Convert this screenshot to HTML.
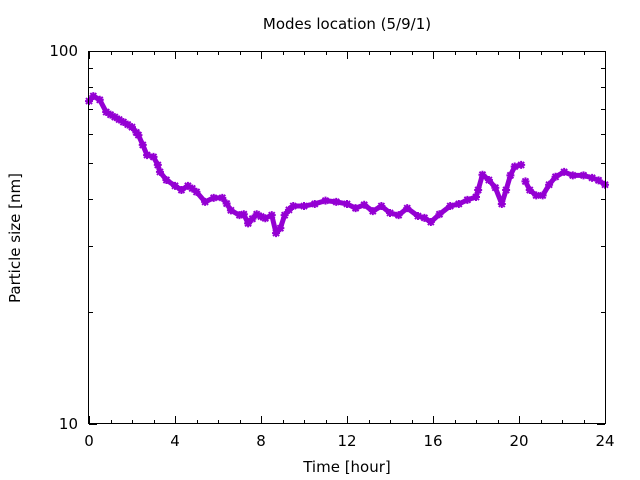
<!DOCTYPE html>
<html><head><meta charset="utf-8"><style>
body{margin:0;background:#fff;}
svg{display:block;font-family:"DejaVu Sans","Liberation Sans",sans-serif;font-size:15px;}
</style></head><body>
<svg id="chart" width="640" height="480" viewBox="0 0 640 480" xmlns="http://www.w3.org/2000/svg">
<text x="347" y="29" text-anchor="middle">Modes location (5/9/1)</text>
<text x="347" y="472" text-anchor="middle">Time [hour]</text>
<text x="20" y="238" text-anchor="middle" transform="rotate(-90 20 238)">Particle size [nm]</text>
<g id="axes"></g>
<g id="series"></g>
<rect x="88.5" y="51.5" width="517" height="372" fill="none" stroke="#000" stroke-width="1"/>
</svg>
<script>
const hours = [0,0.2,0.5,0.8,1.0,1.2,1.4,1.6,1.8,2.0,2.2,2.3,2.5,2.7,3.0,3.2,3.3,3.6,4.0,4.3,4.6,4.8,5.0,5.4,5.8,6.2,6.4,6.6,7.0,7.2,7.4,7.6,7.8,8.0,8.2,8.5,8.7,8.9,9.1,9.3,9.5,10,10.5,11,11.5,12,12.4,12.8,13.2,13.6,14,14.4,14.8,15.3,15.6,15.9,16.3,16.8,17.2,17.6,18.0,18.1,18.3,18.6,18.9,19.2,19.4,19.6,19.8,20.1];
const sizes = [73.4,75.7,74,68.6,67.5,66.5,65.5,64.5,63.5,62.5,60.5,59.5,56,52.6,52,49.5,47.4,45.1,43.5,42.4,43.5,42.8,41.9,39.4,40.4,40.4,39,37.4,36.3,36.5,34.5,35.5,36.5,36,35.6,36.3,32.5,33.5,36.3,37.5,38.4,38.4,38.9,39.7,39.4,38.9,37.9,38.7,37.2,38.4,36.8,36.3,37.9,36.1,35.7,34.8,36.5,38.4,38.9,39.9,40.6,42.4,46.6,45.1,43,38.9,42.4,46.4,49,49.5];
const hours2 = [20.3,20.5,20.8,21.1,21.4,21.7,22.1,22.5,23.0,23.4,23.7,24];
const sizes2 = [44.7,42.4,41,41,43.8,46,47.4,46.4,46.4,45.7,45,43.8];
const xTicks = [0,4,8,12,16,20,24];
const yTicks = [10,100];
const X0=89, X1=605, Y0=424, Y1=51;
const xs = h => X0 + (h/24)*(X1-X0);
const ys = v => Y0 - (Math.log10(v)-1)*(Y0-Y1);
const NS="http://www.w3.org/2000/svg";
const axes=document.getElementById('axes'), ser=document.getElementById('series');
function line(g,x1,y1,x2,y2){const l=document.createElementNS(NS,'line');l.setAttribute('x1',x1);l.setAttribute('y1',y1);l.setAttribute('x2',x2);l.setAttribute('y2',y2);l.setAttribute('stroke','#000');g.appendChild(l);return l;}
for(let h=0;h<=24;h++){
  const x=Math.round(xs(h))+0.5, major=h%4===0, len=major?8:4;
  const t=line(axes,x,Y0,x,Y0-len);
  
  
  const t2=line(axes,x,Y1,x,Y1+len);
  
  
}
xTicks.forEach(h=>{const t=document.createElementNS(NS,'text');t.setAttribute('x',xs(h));t.setAttribute('y',446);t.setAttribute('text-anchor','middle');t.textContent=h;


axes.appendChild(t);});
for(let v=10;v<=100;v+=10){
  const y=Math.round(ys(v))+0.5, major=(v===10||v===100), len=major?8:4;
  const t=line(axes,X0,y,X0+len,y);
  
  
  const t2=line(axes,X1,y,X1-len,y);
  
  
}
yTicks.forEach(v=>{const t=document.createElementNS(NS,'text');t.setAttribute('x',78);t.setAttribute('y',ys(v)+5);t.setAttribute('text-anchor','end');t.textContent=v;


axes.appendChild(t);});
function drawSeries(hs,vs,name){
  const p=document.createElementNS(NS,'polyline');
  p.setAttribute('points',hs.map((h,i)=>xs(h)+','+ys(vs[i])).join(' '));
  p.setAttribute('fill','none');p.setAttribute('stroke','#9400d3');p.setAttribute('stroke-width','5');p.setAttribute('stroke-linejoin','round');p.setAttribute('stroke-linecap','round');
  
  
  ser.appendChild(p);
  hs.forEach((h,i)=>{
    const m=document.createElementNS(NS,'path');const x=xs(h),y=ys(vs[i]);
    m.setAttribute('d',`M${x-4},${y}h8M${x},${y-4}v8M${x-3},${y-3}l6,6M${x-3},${y+3}l6,-6`);
    m.setAttribute('stroke','#9400d3');m.setAttribute('stroke-width','2');
    
    
    ser.appendChild(m);
  });
}
drawSeries(hours,sizes,'mode-series-a');
drawSeries(hours2,sizes2,'mode-series-b');
</script>
</body></html>
